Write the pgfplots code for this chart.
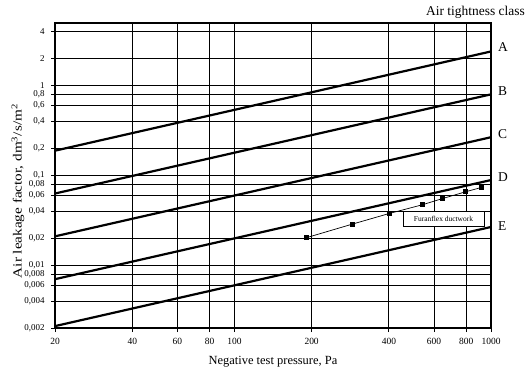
\documentclass[border=0pt]{standalone}
\usepackage{fontspec}
\setmainfont{Liberation Serif}
\usepackage{graphicx}
\usepackage{pgfplots}
\pgfplotsset{compat=1.18}
\begin{document}
\begin{tikzpicture}[x=1bp,y=1bp]
\path[use as bounding box] (-55,-50) rectangle (472,328);
\begin{axis}[
  at={(0,0)}, anchor=south west,
  scale only axis, width=436bp, height=305bp,
  xmode=log, ymode=log,
  xmin=20, xmax=1000, ymin=0.002, ymax=5,
  xtick={20,40,60,80,100,200,400,600,800,1000},
  xticklabels={20,40,60,80,100,200,400,600,800,1000},
  ytick={0.002,0.004,0.006,0.008,0.01,0.02,0.04,0.06,0.08,0.1,0.2,0.4,0.6,0.8,1,2,4},
  yticklabels={{0,002},{0,004},{0,006},{0,008},{0,01},{0,02},{0,04},{0,06},{0,08},{0,1},{0,2},{0,4},{0,6},{0,8},1,2,4},
  minor tick num=0,
  grid=major,
  major grid style={black, line width=0.8pt},
  axis line style={black, line width=1.3pt},
  tick style={black, line width=0.8pt},
  tick align=outside, major tick length=4bp,
  xtick pos=bottom, ytick pos=left,
  xticklabel style={font=\fontsize{9.5}{10}\selectfont, yshift=-3bp},
  yticklabel style={font=\fontsize{9}{10}\selectfont, xshift=-3bp},
  /pgf/number format/assume math mode=true,
  xlabel={Negative test pressure, Pa},
  ylabel={\scalebox{1.22}[1]{Air leakage factor, dm\textsuperscript{3}/s/m\textsuperscript{2}}},
  xlabel style={font=\fontsize{12.5}{14}\selectfont, at={(axis description cs:0.5,-0.111)}, anchor=center},
  ylabel style={font=\fontsize{12.5}{14}\selectfont, at={(axis description cs:-0.085,0.449)}, anchor=center},
  clip=false,
]
\addplot[black, line width=2.2pt] coordinates {(20,0.189) (1000,2.41)};
\addplot[black, line width=2.2pt] coordinates {(20,0.063) (1000,0.802)};
\addplot[black, line width=2.2pt] coordinates {(20,0.021) (1000,0.267)};
\addplot[black, line width=2.2pt] coordinates {(20,0.0070) (1000,0.089)};
\addplot[black, line width=2.2pt] coordinates {(20,0.0021) (1000,0.0267)};
\addplot[black, line width=0.7pt, mark=square*, mark size=2bp] coordinates {
  (191,0.0203) (289,0.0288) (402,0.0378) (540,0.0472) (649,0.0555) (797,0.0659) (917,0.0736)};
\node[draw=black, line width=0.5pt, fill=white, minimum width=81bp, minimum height=15bp, inner sep=0pt, font=\fontsize{7.5}{8}\selectfont] at (axis cs:653,0.0329) {Furanflex ductwork};
\node[anchor=west, font=\fontsize{13.5}{14}\selectfont, inner sep=0pt, xshift=7bp, yshift=4bp] at (axis cs:1000,2.41) {A};
\node[anchor=west, font=\fontsize{13.5}{14}\selectfont, inner sep=0pt, xshift=7bp, yshift=3bp] at (axis cs:1000,0.802) {B};
\node[anchor=west, font=\fontsize{13.5}{14}\selectfont, inner sep=0pt, xshift=7bp, yshift=3bp] at (axis cs:1000,0.267) {C};
\node[anchor=west, font=\fontsize{13.5}{14}\selectfont, inner sep=0pt, xshift=7bp, yshift=3bp] at (axis cs:1000,0.089) {D};
\node[anchor=west, font=\fontsize{13.5}{14}\selectfont, inner sep=0pt, xshift=7bp, yshift=1bp] at (axis cs:1000,0.0267) {E};
\node[anchor=south east, font=\fontsize{13.5}{14}\selectfont, inner sep=0pt, xshift=34bp, yshift=4bp] at (rel axis cs:1,1) {Air tightness class};
\end{axis}
\end{tikzpicture}
\end{document}
